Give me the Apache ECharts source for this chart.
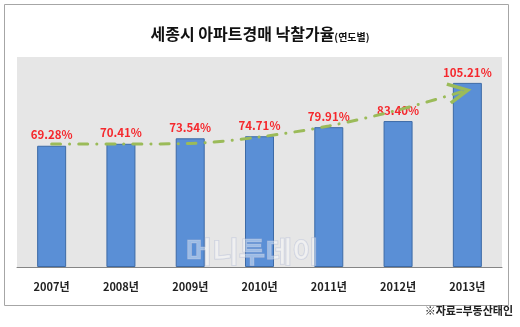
<!DOCTYPE html>
<html>
<head>
<meta charset="utf-8">
<script src="https://cdn.jsdelivr.net/npm/echarts@6/dist/echarts.min.js"></script>
<style>
  html, body { margin: 0; padding: 0; background: #ffffff; }
  #chart { width: 520px; height: 327px; }
</style>
</head>
<body>
<div id="chart"></div>
<script>
// 세종시 아파트 경매 낙찰가율 (연도별)
const years = ['2007년', '2008년', '2009년', '2010년', '2011년', '2012년', '2013년'];
const rates = [69.28, 70.41, 73.54, 74.71, 79.91, 83.40, 105.21];
// hand-drawn trend arrow above the bars
const trend = [70.3, 70.3, 70.6, 74.3, 80.6, 89.7, 101.1];

const FONT = "'Noto Sans CJK KR', 'Noto Sans', sans-serif";
const GREEN = '#9bbb59';

const chart = echarts.init(document.getElementById('chart'), null, { renderer: 'canvas' });

const trendData = trend.map((v, i) => {
  if (i === trend.length - 1) {
    return {
      value: v,
      symbol: 'path://M0,0 L21,6 L4,19',
      symbolSize: [21, 19],
      symbolOffset: [-10, 3.5],
      itemStyle: { color: 'rgba(0,0,0,0)', borderColor: GREEN, borderWidth: 3.5 }
    };
  }
  return v;
});

chart.setOption({
  animation: false,
  textStyle: { fontFamily: FONT },
  title: {
    text: '{a|세종시 아파트경매 낙찰가율}{b|(연도별)}',
    left: 'center',
    top: 17,
    textStyle: {
      rich: {
        a: { fontSize: 16, fontWeight: 'bold', color: '#111', fontFamily: FONT, verticalAlign: 'bottom', lineHeight: 20 },
        b: { fontSize: 10, fontWeight: 'bold', color: '#111', fontFamily: FONT, verticalAlign: 'bottom', lineHeight: 17 }
      }
    }
  },
  grid: { left: 17, right: 18, top: 57, bottom: 60, show: true, backgroundColor: '#e6e6e6', borderWidth: 0 },
  xAxis: {
    type: 'category',
    data: years,
    axisLine: { show: true, lineStyle: { color: '#858585', width: 1 } },
    axisTick: { show: false },
    axisLabel: { fontSize: 11, fontWeight: 'bold', color: '#222', margin: 14, fontFamily: FONT }
  },
  yAxis: {
    type: 'value',
    min: 0,
    max: 120,
    show: false,
    splitLine: { show: false }
  },
  series: [
    {
      type: 'bar',
      data: rates,
      barWidth: 29,
      itemStyle: { color: '#5a8fd6', borderColor: '#3d6aa6', borderWidth: 1 },
      label: {
        show: true,
        position: 'top',
        distance: 5,
        formatter: p => p.value.toFixed(2) + '%',
        fontSize: 11.5,
        fontWeight: 'bold',
        color: '#f5282d',
        fontFamily: FONT
      },
      z: 2
    },
    {
      type: 'line',
      data: trendData,
      symbol: 'none',
      showAllSymbol: true,
      smooth: 0.3,
      lineStyle: { color: GREEN, width: 3, type: [9, 9, 0.1, 9], cap: 'round' },
      z: 3,
      silent: true
    }
  ],
  graphic: [
    {
      type: 'rect',
      shape: { x: 4.5, y: 4.5, width: 504, height: 301 },
      style: { fill: 'none', stroke: '#a6a6a6', lineWidth: 1 },
      silent: true,
      z: -1
    },
    {
      type: 'text',
      left: 185,
      top: 237,
      style: {
        text: '머니투데이',
        font: 'bold 29px ' + FONT,
        fill: 'rgba(255,255,255,0.4)',
        stroke: 'rgba(170,180,210,0.5)',
        lineWidth: 1
      },
      silent: true,
      z: 10
    },
    {
      type: 'text',
      right: 7,
      top: 305,
      style: {
        text: '※자료=부동산태인',
        font: 'bold 11px ' + FONT,
        fill: '#222'
      },
      silent: true
    }
  ]
});
</script>
</body>
</html>
